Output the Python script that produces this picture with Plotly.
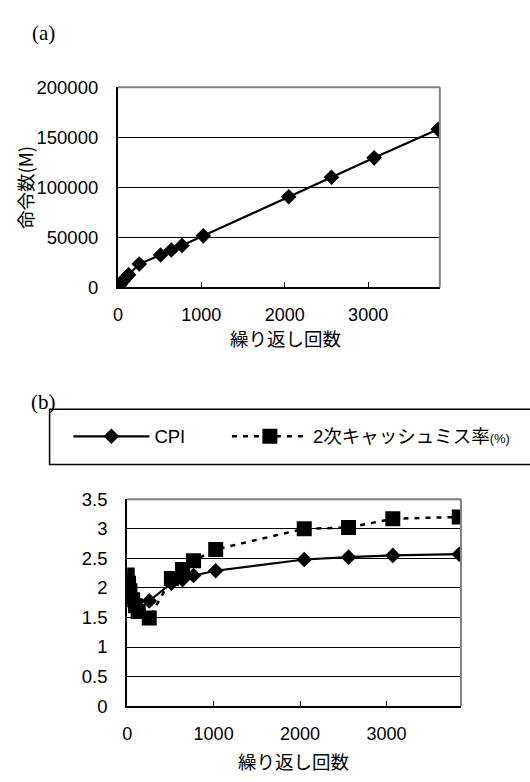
import plotly.graph_objects as go

# ---- data ----
iterations = [1, 16, 32, 64, 96, 128, 256, 512, 640, 768, 1024, 2048, 2560, 3072, 3840]
instructions_m = [300, 1800, 3500, 6600, 9600, 12600, 23300, 32400, 37300, 41800, 51500, 90500, 110000, 129400, 157900]
cpi = [2.12, 2.0, 1.9, 1.78, 1.68, 1.63, 1.78, 2.08, 2.14, 2.21, 2.29, 2.48, 2.52, 2.55, 2.57]
l2_miss = [2.22, 2.08, 1.95, 1.8, 1.7, 1.6, 1.49, 2.16, 2.31, 2.46, 2.65, 3.0, 3.02, 3.17, 3.2]

x_ticks = [0, 1000, 2000, 3000]
top_y_ticks = [0, 50000, 100000, 150000, 200000]
bot_y_ticks = [0, 0.5, 1, 1.5, 2, 2.5, 3, 3.5]

W, H = 530, 782
FONT = "Liberation Sans, Arial, Noto Sans CJK JP"
JP = "Noto Sans CJK JP, Liberation Sans"
FSX = 18
FSY = 18.5

def px_x(p):
    return p / W

def px_y(p):
    return (H - p) / H

fig = go.Figure()

fig.add_trace(go.Scatter(
    x=iterations, y=instructions_m, mode="lines+markers",
    line=dict(color="black", width=2.2),
    marker=dict(symbol="diamond", size=12, color="black"),
    xaxis="x", yaxis="y", showlegend=False))

fig.add_trace(go.Scatter(
    x=iterations, y=cpi, mode="lines+markers", name="CPI",
    line=dict(color="black", width=2.2),
    marker=dict(symbol="diamond", size=12, color="black"),
    xaxis="x2", yaxis="y2", legend="legend"))

fig.add_trace(go.Scatter(
    x=iterations, y=l2_miss, mode="lines+markers",
    name="2次キャッシュミス率<span style='font-size:13px'>(%)</span>",
    line=dict(color="black", width=2.5, dash="5px,6px"),
    marker=dict(symbol="square", size=15, color="black"),
    xaxis="x2", yaxis="y2", legend="legend2"))

xcommon = dict(
    range=[0, 3860], tickvals=x_ticks, tickformat="d",
    ticks="inside", ticklen=5, tickwidth=1, tickcolor="black",
    showline=True, linecolor="black", linewidth=2,
    showgrid=False, zeroline=False, layer="below traces",
    tickfont=dict(family=FONT, size=FSX, color="black"),
    ticklabelstandoff=10,
)
ycommon = dict(
    ticks="", showline=True, linecolor="black", linewidth=2,
    showgrid=True, gridcolor="black", gridwidth=1, zeroline=False,
    layer="below traces",
    tickfont=dict(family=FONT, size=FSY, color="black"),
    ticklabelstandoff=14,
)

legend_common = dict(
    orientation="h", xanchor="left", y=px_y(437.5), yanchor="middle",
    bgcolor="rgba(0,0,0,0)", borderwidth=0,
    font=dict(family=FONT, size=18.5, color="black"),
    itemwidth=76, itemclick=False,
)

fig.update_layout(
    width=W, height=H,
    margin=dict(l=0, r=0, t=0, b=0),
    paper_bgcolor="white", plot_bgcolor="white",
    font=dict(family=FONT, size=FSX, color="black"),
    xaxis=dict(domain=[px_x(114), px_x(439)], anchor="y", **xcommon),
    yaxis=dict(domain=[px_y(284), px_y(78.3)], anchor="x", range=[0, 200000],
               tickvals=top_y_ticks, tickformat="d", **ycommon),
    xaxis2=dict(domain=[px_x(123.3), px_x(460.3)], anchor="y2", **xcommon),
    yaxis2=dict(domain=[px_y(714.3), px_y(501.7)], anchor="x2", range=[0, 3.5],
                tickvals=bot_y_ticks, **ycommon),
    showlegend=True,
    legend=dict(x=px_x(64), **legend_common),
    legend2=dict(x=px_x(224), **legend_common),
)

# plot-area border (top/right in gray) and legend frame
for xr, yr in (("x domain", "y domain"), ("x2 domain", "y2 domain")):
    fig.add_shape(type="line", xref=xr, yref=yr, x0=0, x1=1, y0=1, y1=1,
                  line=dict(color="#808080", width=2), layer="above")
    fig.add_shape(type="line", xref=xr, yref=yr, x0=1, x1=1, y0=0, y1=1,
                  line=dict(color="#808080", width=2), layer="above")
fig.add_shape(type="rect", xref="paper", yref="paper",
              x0=px_x(45), x1=1.05, y0=px_y(466), y1=px_y(409.3),
              line=dict(color="black", width=1.5), fillcolor="rgba(0,0,0,0)")

# titles
ann = [
    dict(text="(a)", x=px_x(38.5), y=px_y(23), font=dict(family="Liberation Serif, Times New Roman", size=21)),
    dict(text="(b)", x=px_x(38.5), y=px_y(402), font=dict(family="Liberation Serif, Times New Roman", size=21)),
    dict(text="繰り返し回数", x=px_x(283), y=px_y(336), font=dict(family=JP, size=18.5)),
    dict(text="繰り返し回数", x=px_x(291), y=px_y(771), font=dict(family=JP, size=18.5)),
    dict(text="命令数(M)", x=px_x(20), y=px_y(181), textangle=-90, font=dict(family=JP, size=18.5)),
]
for a in ann:
    fig.add_annotation(xref="paper", yref="paper", showarrow=False,
                       xanchor="center", yanchor="middle", **a)

fig.write_html("out.html", config={"displayModeBar": False},
               post_script="document.body.style.margin='0';")
